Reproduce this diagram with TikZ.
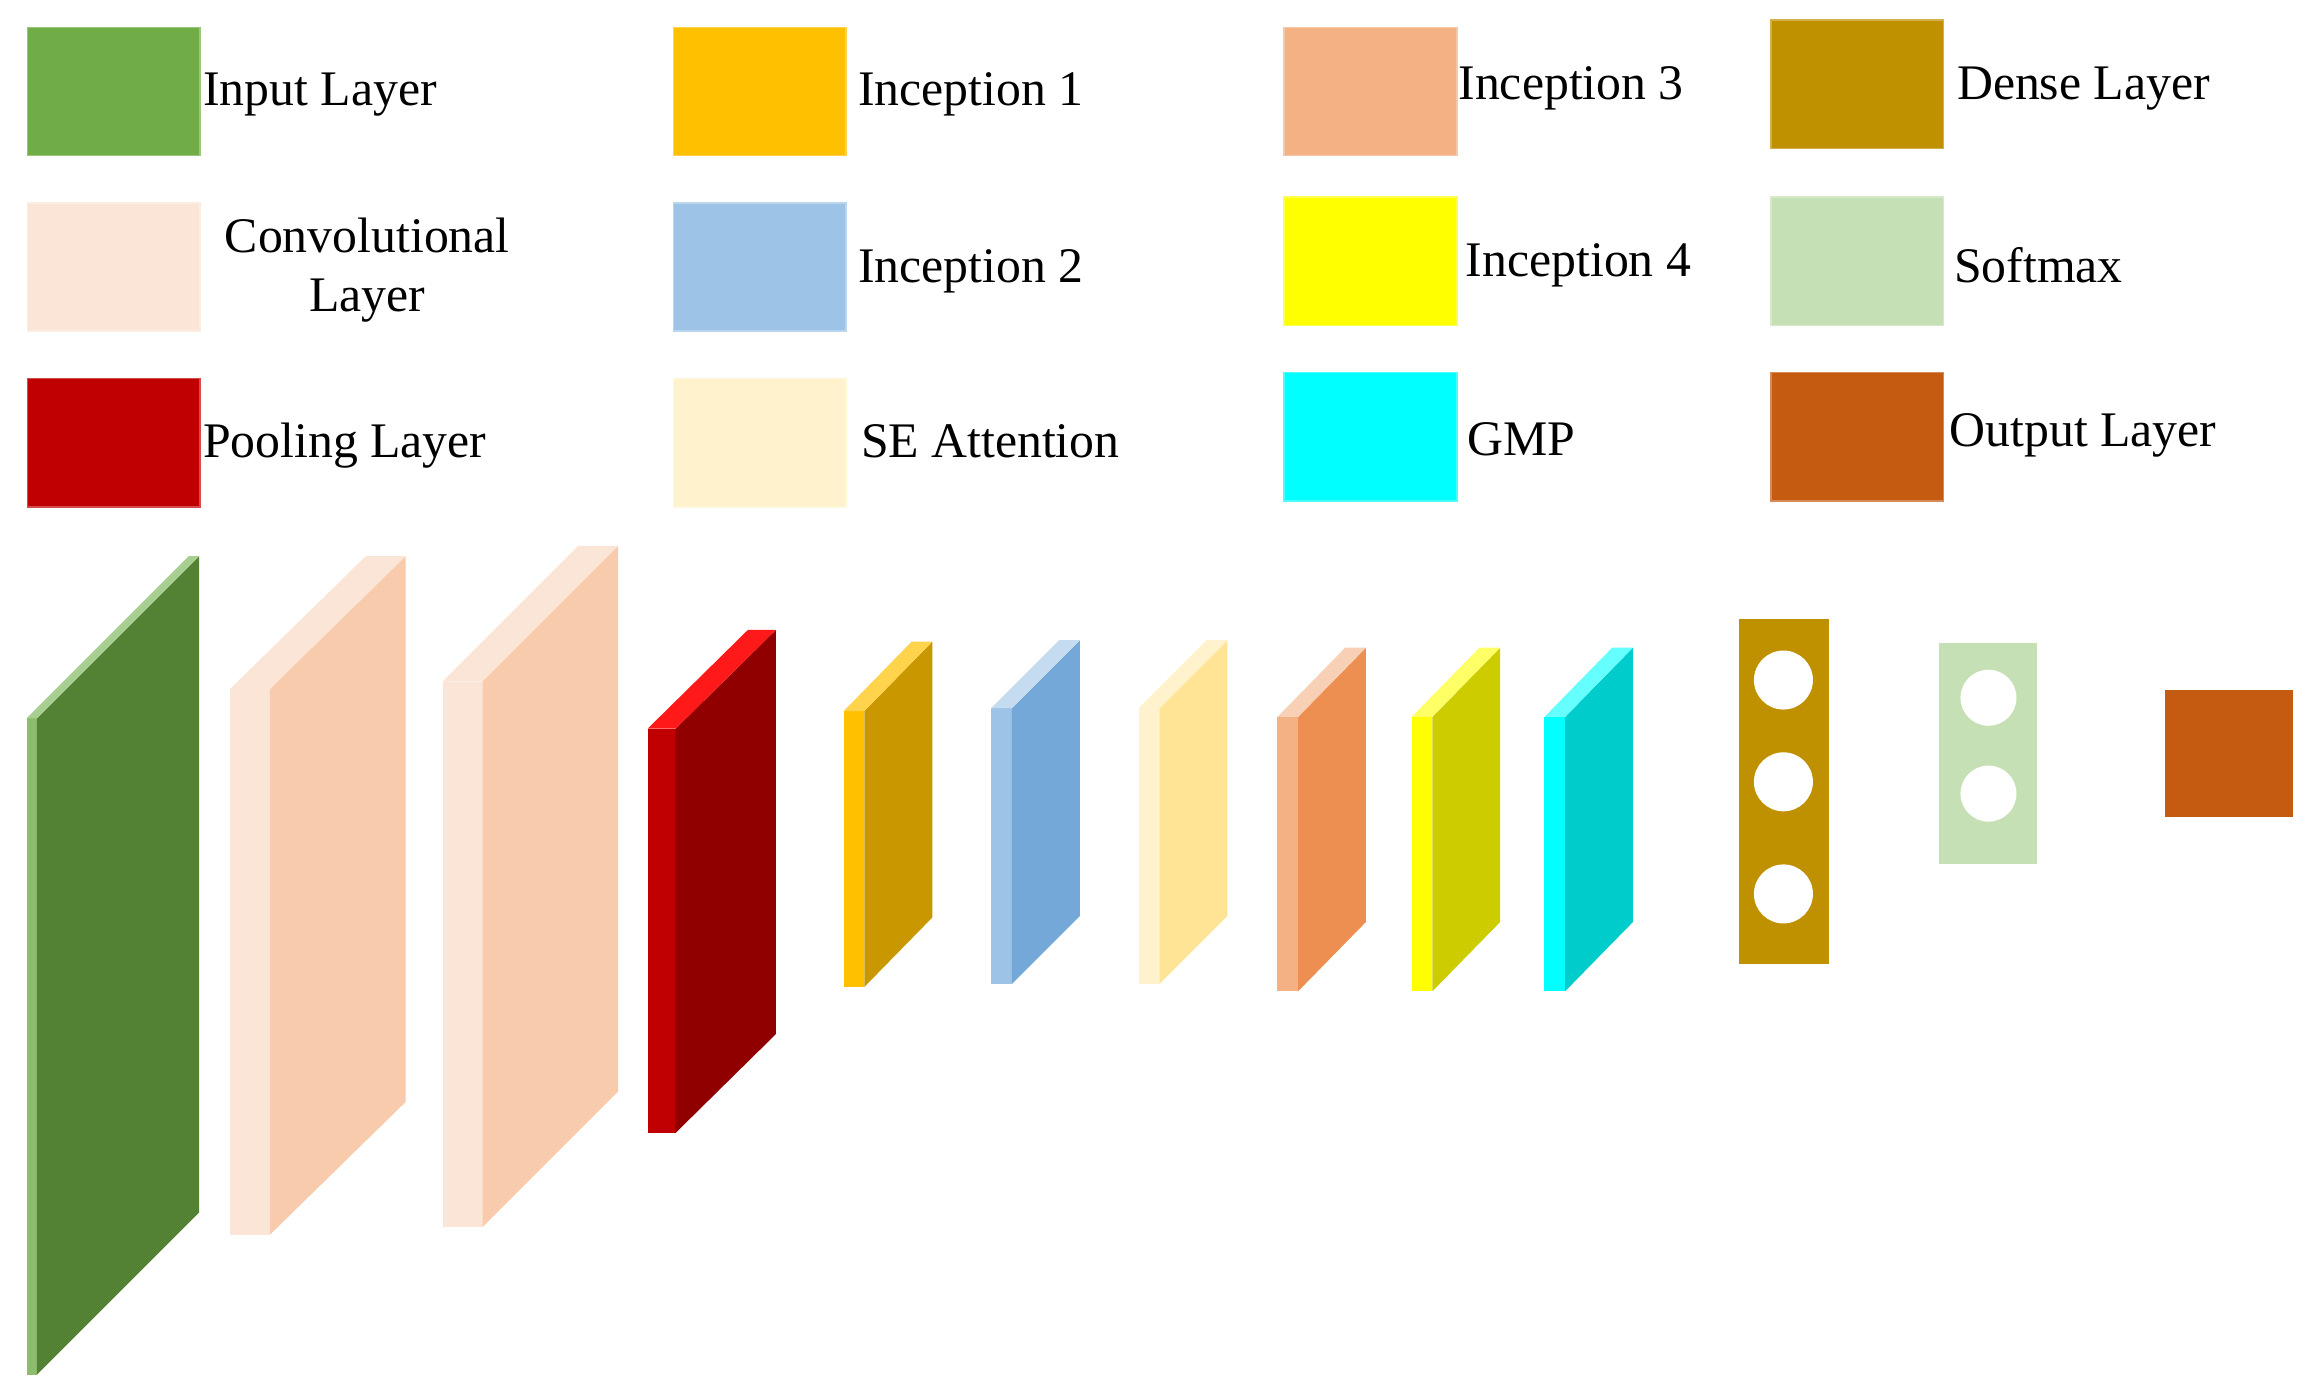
\documentclass[tikz,border=0pt]{standalone}
\usepackage{xcolor}
\usepackage{fontspec}
\setmainfont{Liberation Serif}
\usepackage{tikz}
\usetikzlibrary{positioning}

\definecolor{cinput}{HTML}{70AD47}
\definecolor{cconv}{HTML}{FBE5D6}
\definecolor{cpool}{HTML}{C00000}
\definecolor{cinca}{HTML}{FFC000}
\definecolor{cincb}{HTML}{9DC3E6}
\definecolor{cse}{HTML}{FFF2CC}
\definecolor{cincc}{HTML}{F4B183}
\definecolor{cincd}{HTML}{FFFF00}
\definecolor{cgmp}{HTML}{00FFFF}
\definecolor{cdense}{HTML}{BF9000}
\definecolor{csoft}{HTML}{C5E0B4}
\definecolor{cout}{HTML}{C55A11}
\definecolor{sincb}{HTML}{74A8D8}
\definecolor{sincc}{HTML}{EE8F52}

% slab: x0, ytop, thickness, height, dx, dy, front, side, top
\newcommand{\slab}[9]{
  \fill[#7] (#1,#2) rectangle ++(#3,#4);
  \fill[#8] (#1+#3,#2) -- ++(#5,-#6) -- ++(0,#4) -- ++(-#5,#6) -- cycle;
  \fill[#9] (#1,#2) -- ++(#3,0) -- ++(#5,-#6) -- ++(-#3,0) -- cycle;
}

\begin{document}
\begin{tikzpicture}[x=0.1mm, y=-0.1mm, font=\fontsize{9.6}{11.5}\selectfont,
    key/.style={draw=#1!70!white, line width=0.3pt, fill=#1, minimum width=11.7mm, minimum height=8.7mm, inner sep=0pt, anchor=north west},
    lbl/.style={anchor=west, inner sep=0pt},
    hole/.style={fill=white, draw=none}]
\useasboundingbox (0,0) rectangle (1568,943);

% legend
\node[key=cinput] (kinput) at (18,18) {};
\node[key=cconv] (kconv) at (18,137) {};
\node[key=cpool] (kpool) at (18,256) {};
\node[key=cinca] (kinca) at (456,18) {};
\node[key=cincb] (kincb) at (456,137) {};
\node[key=cse] (kse) at (456,256) {};
\node[key=cincc] (kincc) at (870,18) {};
\node[key=cincd] (kincd) at (870,133) {};
\node[key=cgmp] (kgmp) at (870,252) {};
\node[key=cdense] (kdense) at (1200,13) {};
\node[key=csoft] (ksoft) at (1200,133) {};
\node[key=cout] (kout) at (1200,252) {};

\node[lbl] (tinput) at (137,64) {Input Layer};
\node[align=center, inner sep=0pt] (tconv) at (249,183) {Convolutional\\Layer};
\node[lbl] (tpool) at (137,302) {Pooling Layer};
\node[lbl] (tinca) at (581,64) {Inception 1};
\node[lbl] (tincb) at (581,184) {Inception 2};
\node[lbl] (tse) at (583,299) {SE Attention};
\node[lbl] (tincc) at (988,60) {Inception 3};
\node[lbl] (tincd) at (993,180) {Inception 4};
\node[lbl] (tgmp) at (994,298) {GMP};
\node[lbl] (tdense) at (1326,60) {Dense Layer};
\node[lbl] (tsoft) at (1324,180) {Softmax};
\node[lbl] (tout) at (1321,295) {Output Layer};

% network
\slab{18}{487}{7}{445}{110}{110}{cinput!80!white}{cinput!75!black}{cinput!60!white}
\slab{156}{467}{27}{370}{92}{90}{cconv}{cconv!50!cincc}{cconv}
\slab{300}{462}{27}{370}{92}{92}{cconv}{cconv!50!cincc}{cconv}
\slab{439}{494}{19}{274}{68}{67}{cpool}{cpool!75!black}{red!90!white}
\slab{572}{482}{14}{187}{46}{47}{cinca}{cdense!85!cinca}{cinca!70!white}
\slab{672}{480}{14}{187}{46}{46}{cincb}{sincb}{cincb!60!white}
\slab{772}{480}{14}{187}{46}{46}{cse}{cse!60!cinca!80!white}{cse}
\slab{866}{486}{14}{186}{46}{47}{cincc}{sincc}{cincc!60!white}
\slab{957}{486}{14}{186}{46}{47}{cincd}{cincd!80!black}{cincd!60!white}
\slab{1047}{486}{14}{186}{46}{47}{cgmp}{cgmp!80!black}{cgmp!60!white}

\node[fill=cdense, minimum width=6.1mm, minimum height=23.4mm, inner sep=0pt, anchor=north west] (dense) at (1178,419) {};
\foreach \yy in {461,530,606}
  \fill[hole] (1209,\yy) circle (20);
\node[fill=csoft, minimum width=6.6mm, minimum height=15mm, inner sep=0pt, anchor=north west] (soft) at (1314,435) {};
\foreach \yy in {473,538}
  \fill[hole] (1348,\yy) circle (19);
\node[fill=cout, minimum width=8.7mm, minimum height=8.6mm, inner sep=0pt, anchor=north west] (out) at (1467,467) {};
\end{tikzpicture}
\end{document}
